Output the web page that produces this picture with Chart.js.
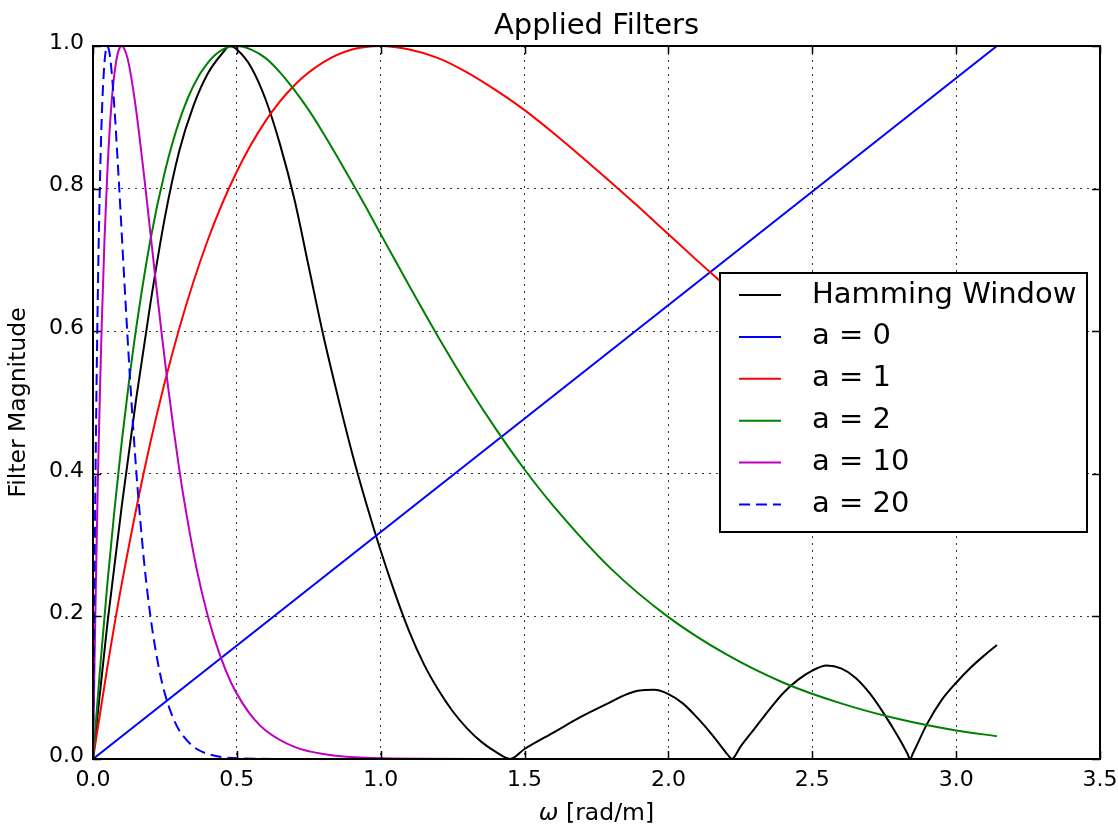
<!DOCTYPE html>
<html>
<head>
<meta charset="utf-8">
<title>Applied Filters</title>
<script src="https://cdn.jsdelivr.net/npm/chart.js@4.4.0/dist/chart.umd.min.js"></script>
<style>
  html, body { margin: 0; padding: 0; background: #fff; }
  #wrap { width: 1118px; height: 828px; }
</style>
</head>
<body>
<div id="wrap"><canvas id="filters"></canvas></div>
<script>
// Line colours (matplotlib classic)
let black = "#000000";
let blue = "#0000ff";
let red = "#ff0000";
let green = "#008000";
let magenta = "#bf00bf";

// Labels
let seriesLabels = ["Hamming Window", "a = 0", "a = 1", "a = 2", "a = 10", "a = 20"];
let xTickValues = [0, 0.5, 1.0, 1.5, 2.0, 2.5, 3.0, 3.5];
let yTickValues = [0, 0.2, 0.4, 0.6, 0.8, 1.0];

// Hamming Window
let hammingW = [0, 0.05, 0.1, 0.15, 0.2, 0.25, 0.3, 0.35, 0.4, 0.45, 0.475, 0.5, 0.55, 0.6, 0.65, 0.7, 0.75, 0.8, 0.85, 0.9,
  0.95, 1.0, 1.05, 1.1, 1.15, 1.2, 1.25, 1.3, 1.35, 1.4, 1.45, 1.5, 1.6, 1.7, 1.8, 1.85, 1.9, 1.95, 2.0, 2.05,
  2.1, 2.15, 2.2, 2.21, 2.22, 2.25, 2.3, 2.35, 2.4, 2.45, 2.5, 2.55, 2.6, 2.65, 2.7, 2.75, 2.8, 2.83, 2.84, 2.85,
  2.9, 2.95, 3.0, 3.05, 3.1, 3.1416];
let hammingMag = [0, 0.19, 0.355, 0.505, 0.64, 0.76, 0.853, 0.917, 0.962, 0.99, 1.0, 0.995, 0.97, 0.925, 0.862, 0.785, 0.69, 0.595, 0.51, 0.43,
  0.358, 0.292, 0.232, 0.178, 0.133, 0.097, 0.067, 0.043, 0.024, 0.01, 0.0, 0.014, 0.037, 0.06, 0.08, 0.09, 0.096, 0.097, 0.091, 0.078,
  0.058, 0.035, 0.009, 0.004, 0.0, 0.017, 0.043, 0.069, 0.093, 0.111, 0.124, 0.131, 0.127, 0.114, 0.092, 0.063, 0.03, 0.008, 0.0, 0.008,
  0.05, 0.083, 0.107, 0.128, 0.146, 0.16];

// a = 0
let a0W = [0, 3.1416];
let a0Mag = [0, 1.0];

// a = 1
let a1W = [0, 0.05, 0.1, 0.2, 0.3, 0.4, 0.5, 0.6, 0.7, 0.8, 0.9, 1.0, 1.1, 1.2, 1.3, 1.4, 1.5, 1.6, 1.7, 1.8,
  1.9, 2.0, 2.1, 2.2, 2.3, 2.4, 2.5, 2.6, 2.7, 2.8, 2.9, 3.0, 3.1, 3.1416];
let a1Mag = [0, 0.129, 0.246, 0.445, 0.604, 0.729, 0.824, 0.895, 0.945, 0.977, 0.995, 1.0, 0.995, 0.983, 0.963, 0.938, 0.910, 0.878, 0.844, 0.809,
  0.773, 0.736, 0.699, 0.663, 0.627, 0.592, 0.558, 0.525, 0.493, 0.463, 0.434, 0.406, 0.380, 0.369];

// a = 2
let a2W = [0, 0.025, 0.05, 0.075, 0.1, 0.125, 0.15, 0.2, 0.25, 0.3, 0.35, 0.4, 0.45, 0.5, 0.55, 0.6, 0.65, 0.7, 0.75, 0.8,
  0.85, 0.9, 0.95, 1.0, 1.1, 1.2, 1.3, 1.4, 1.5, 1.6, 1.8, 2.0, 2.2, 2.4, 2.6, 2.8, 3.0, 3.1416];
let a2Mag = [0, 0.129, 0.246, 0.351, 0.445, 0.529, 0.604, 0.729, 0.824, 0.895, 0.945, 0.977, 0.995, 1.0, 0.995, 0.983, 0.963, 0.938, 0.910, 0.878,
  0.844, 0.809, 0.773, 0.736, 0.663, 0.592, 0.525, 0.463, 0.406, 0.355, 0.267, 0.199, 0.147, 0.107, 0.078, 0.056, 0.040, 0.032];

// a = 10
let a10W = [0, 0.005, 0.01, 0.015, 0.02, 0.025, 0.03, 0.04, 0.05, 0.06, 0.07, 0.08, 0.09, 0.1, 0.11, 0.12, 0.13, 0.14, 0.15, 0.16,
  0.17, 0.18, 0.19, 0.2, 0.22, 0.24, 0.26, 0.28, 0.3, 0.32, 0.36, 0.4, 0.44, 0.48, 0.52, 0.56, 0.6, 0.7, 0.8, 1.0, 1.5, 2.0, 3.1416];
let a10Mag = [0, 0.129, 0.246, 0.351, 0.445, 0.529, 0.604, 0.729, 0.824, 0.895, 0.945, 0.977, 0.995, 1.0, 0.995, 0.983, 0.963, 0.938, 0.910, 0.878,
  0.844, 0.809, 0.773, 0.736, 0.663, 0.592, 0.525, 0.463, 0.406, 0.355, 0.267, 0.199, 0.147, 0.107, 0.078, 0.056, 0.040, 0.017, 0.007, 0.001, 0, 0, 0];

// a = 20
let a20W = [0, 0.0025, 0.005, 0.0075, 0.01, 0.0125, 0.015, 0.02, 0.025, 0.03, 0.035, 0.04, 0.045, 0.05, 0.055, 0.06, 0.065, 0.07, 0.075, 0.08,
  0.085, 0.09, 0.095, 0.1, 0.11, 0.12, 0.13, 0.14, 0.15, 0.16, 0.18, 0.2, 0.22, 0.24, 0.26, 0.28, 0.3, 0.35, 0.4, 0.5, 0.75, 1.0, 3.1416];
let a20Mag = [0, 0.129, 0.246, 0.351, 0.445, 0.529, 0.604, 0.729, 0.824, 0.895, 0.945, 0.977, 0.995, 1.0, 0.995, 0.983, 0.963, 0.938, 0.910, 0.878,
  0.844, 0.809, 0.773, 0.736, 0.663, 0.592, 0.525, 0.463, 0.406, 0.355, 0.267, 0.199, 0.147, 0.107, 0.078, 0.056, 0.040, 0.017, 0.007, 0.001, 0, 0, 0];

let fontFamily = "'DejaVu Sans', sans-serif";
Chart.defaults.font.family = fontFamily;
Chart.defaults.color = "#000";

function points(ws, mags) {
  return ws.map((w, i) => ({ x: w, y: mags[i] }));
}

function line(label, ws, mags, color, order, dash) {
  return {
    label: label,
    data: points(ws, mags),
    borderColor: color,
    backgroundColor: color,
    borderWidth: 2,
    borderDash: dash || [],
    pointRadius: 0,
    fill: false,
    cubicInterpolationMode: 'monotone',
    order: order
  };
}

let datasets = [
  line(seriesLabels[0], hammingW, hammingMag, black, 5),
  line(seriesLabels[1], a0W, a0Mag, blue, 4),
  line(seriesLabels[2], a1W, a1Mag, red, 3),
  line(seriesLabels[3], a2W, a2Mag, green, 2),
  line(seriesLabels[4], a10W, a10Mag, magenta, 1),
  line(seriesLabels[5], a20W, a20Mag, blue, 0, [11, 6])
];

// Frame with inward ticks, x label with italic omega, and the boxed legend
const framePlugin = {
  id: 'frame',
  afterDatasetsDraw(chart) {
    const { ctx, chartArea: ca, scales } = chart;
    ctx.save();
    ctx.strokeStyle = "#000";
    ctx.lineWidth = 1.5;
    ctx.beginPath();
    scales.x.ticks.forEach(t => {
      const px = Math.round(scales.x.getPixelForValue(t.value)) + 0.5;
      ctx.moveTo(px, ca.bottom); ctx.lineTo(px, ca.bottom - 8);
      ctx.moveTo(px, ca.top); ctx.lineTo(px, ca.top + 8);
    });
    scales.y.ticks.forEach(t => {
      const py = Math.round(scales.y.getPixelForValue(t.value)) + 0.5;
      ctx.moveTo(ca.left, py); ctx.lineTo(ca.left + 8, py);
      ctx.moveTo(ca.right, py); ctx.lineTo(ca.right - 8, py);
    });
    ctx.stroke();
    ctx.lineWidth = 2;
    ctx.strokeRect(ca.left, ca.top, ca.right - ca.left, ca.bottom - ca.top);

    // x axis label
    const omega = "ω", rest = " [rad/m]";
    ctx.fillStyle = "#000";
    ctx.textBaseline = "middle";
    ctx.textAlign = "left";
    ctx.font = "italic 23.5px " + fontFamily;
    const w1 = ctx.measureText(omega).width;
    ctx.font = "23.5px " + fontFamily;
    const w2 = ctx.measureText(rest).width;
    let x0 = (ca.left + ca.right) / 2 - (w1 + w2) / 2;
    const y0 = chart.height - 14;
    ctx.font = "italic 23.5px " + fontFamily;
    ctx.fillText(omega, x0, y0);
    ctx.font = "23.5px " + fontFamily;
    ctx.fillText(rest, x0 + w1, y0);
    ctx.restore();
  },
  afterDraw(chart) {
    const { ctx, chartArea: ca } = chart;
    const left = ca.right - 380, top = ca.top + 227, w = 367, h = 259;
    ctx.save();
    ctx.fillStyle = "#fff";
    ctx.fillRect(left, top, w, h);
    ctx.strokeStyle = "#000";
    ctx.lineWidth = 2;
    ctx.strokeRect(left, top, w, h);
    ctx.font = "29px " + fontFamily;
    ctx.textBaseline = "middle";
    ctx.textAlign = "left";
    chart.data.datasets.forEach((ds, i) => {
      const y = top + 22 + i * 41.9;
      ctx.strokeStyle = ds.borderColor;
      ctx.lineWidth = 2;
      ctx.setLineDash(ds.borderDash || []);
      ctx.beginPath();
      ctx.moveTo(left + 19, y);
      ctx.lineTo(left + 61, y);
      ctx.stroke();
      ctx.setLineDash([]);
      ctx.fillStyle = "#000";
      ctx.fillText(ds.label, left + 92, y);
    });
    ctx.restore();
  }
};

new Chart(document.getElementById("filters").getContext('2d'), {
  type: 'line',
  data: { datasets: datasets },
  plugins: [framePlugin],
  options: {
    animation: false,
    responsive: true,
    maintainAspectRatio: false,
    layout: { padding: { top: 0, right: 18, bottom: 0, left: 0 } },
    plugins: {
      legend: { display: false },
      tooltip: { enabled: false },
      title: {
        display: true,
        text: 'Applied Filters',
        fullSize: false,
        color: '#000',
        font: { size: 29, weight: 'normal' },
        padding: { top: 9, bottom: 2.2 }
      }
    },
    scales: {
      x: {
        type: 'linear',
        min: 0,
        max: 3.5,
        afterBuildTicks: s => { s.ticks = xTickValues.map(v => ({ value: v })); },
        afterFit: s => { s.height = 69; s.paddingLeft = 0; s.paddingRight = 0; },
        ticks: {
          callback: v => Number(v).toFixed(1),
          font: { size: 22 },
          color: '#000',
          padding: 8,
          maxRotation: 0,
          autoSkip: false
        },
        grid: { color: 'rgba(0,0,0,0.8)', lineWidth: 1, drawTicks: false, borderDash: [2, 5] },
        border: { display: false, dash: [2, 5] }
      },
      y: {
        type: 'linear',
        min: 0,
        max: 1,
        afterBuildTicks: s => { s.ticks = yTickValues.map(v => ({ value: v })); },
        afterFit: s => { s.width = 93; s.paddingTop = 0; s.paddingBottom = 0; },
        ticks: {
          callback: v => Number(v).toFixed(1),
          font: { size: 22 },
          color: '#000',
          padding: 9,
          labelOffset: -3
        },
        grid: { color: 'rgba(0,0,0,0.8)', lineWidth: 1, drawTicks: false, borderDash: [2, 5] },
        border: { display: false, dash: [2, 5] },
        title: { display: true, text: 'Filter Magnitude', font: { size: 23.5 }, color: '#000', padding: { top: 5, bottom: 0 } }
      }
    }
  }
});
</script>
</body>
</html>
